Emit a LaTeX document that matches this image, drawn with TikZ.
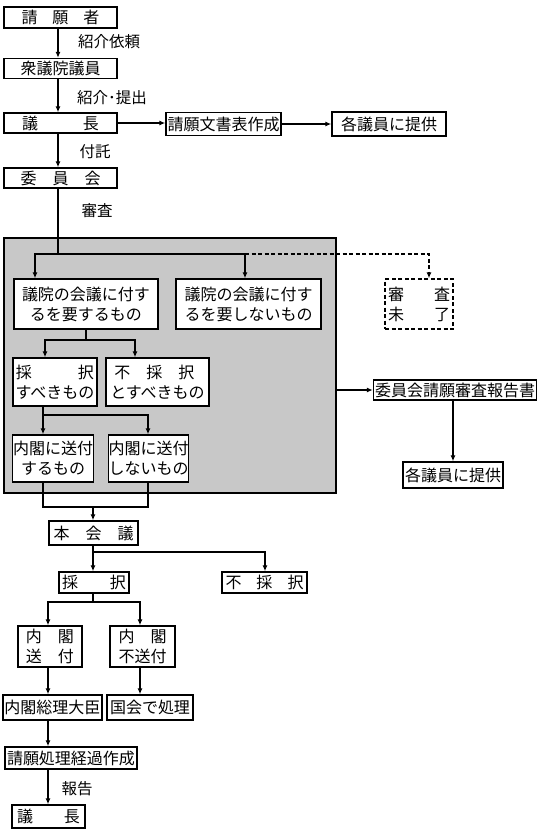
\documentclass[tikz,border=0pt]{standalone}
\usepackage{fontspec}
\setmainfont{Noto Sans CJK JP}
\usetikzlibrary{arrows.meta}
\definecolor{panel}{RGB}{200,200,200}
\newcommand\spr[2]{\makebox[#1][s]{#2}}
\begin{document}
\begin{tikzpicture}[x=1pt,y=-1pt,
  bx/.style={draw, line width=1.4pt, fill=white, inner sep=0pt, align=center,
     font=\fontsize{16}{20}\selectfont},
  dbx/.style={bx, dashed, dash pattern=on 4pt off 2.5pt},
  lbl/.style={inner sep=0pt, font=\fontsize{15.5}{18}\selectfont},
  ln/.style={line width=1.2pt},
  arr/.style={ln, -{Latex[length=6pt,width=5pt]}}]
\useasboundingbox (0,0) rectangle (556,839);
% panel
\node[draw, line width=1.2pt, fill=panel, minimum width=332, minimum height=255, inner sep=0pt] (grp) at (170,365.5) {};
% top chain
\node[bx, minimum width=113, minimum height=21] (a) at (60.5,17.5) {\spr{78pt}{請\hfill 願\hfill 者}};
\node[bx, minimum width=113, minimum height=20] (b) at (60.5,68.5) {衆議院議員};
\node[bx, minimum width=113, minimum height=20] (c) at (60.5,123) {\spr{77pt}{議\hfill 長}};
\node[bx, minimum width=115, minimum height=23] (d) at (223.5,124) {請願文書表作成};
\node[bx, minimum width=114, minimum height=24] (e) at (389,124) {各議員に提供};
\node[bx, minimum width=113, minimum height=20] (f) at (60.5,178) {\spr{80pt}{委\hfill 員\hfill 会}};
% labels
\node[lbl] (l1) at (109,42) {紹介依頼};
\node[lbl] (l2) at (112,98) {紹介･提出};
\node[lbl] (l3) at (95,152) {付託};
\node[lbl] (l4) at (97,211) {審査};
\node[lbl] (l5) at (77,789) {報告};
% inside panel
\node[bx, minimum width=144, minimum height=50] (g) at (86,304) {議院の会議に付す\\るを要するもの};
\node[bx, minimum width=145, minimum height=50] (h) at (248.5,304) {議院の会議に付す\\るを要しないもの};
\node[dbx, minimum width=68, minimum height=50] (i) at (419,304) {\spr{62pt}{審\hfill 査}\\\spr{62pt}{未\hfill 了}};
\node[bx, minimum width=84, minimum height=48] (j) at (55,382) {\spr{78pt}{採\hfill 択}\\すべきもの};
\node[bx, minimum width=103, minimum height=48, align=left] (k) at (157.5,382) {\hspace{4pt}不　採　択\\とすべきもの};
\node[bx, minimum width=81, minimum height=47] (l) at (53,458.5) {内閣に送付\\するもの};
\node[bx, minimum width=80, minimum height=47] (m) at (148.5,458.5) {内閣に送付\\しないもの};
% right side
\node[bx, minimum width=163, minimum height=20] (w) at (455,390) {委員会請願審査報告書};
\node[bx, minimum width=100, minimum height=26] (x) at (453,475) {各議員に提供};
% lower chain
\node[bx, minimum width=89, minimum height=24] (n) at (93.5,533) {\spr{80pt}{本\hfill 会\hfill 議}};
\node[bx, minimum width=70, minimum height=21] (o) at (94,582.5) {\spr{64pt}{採\hfill 択}};
\node[bx, minimum width=85, minimum height=21] (p) at (264.5,582.5) {\spr{78pt}{不\hfill 採\hfill 択}};
\node[bx, minimum width=64, minimum height=41] (q) at (50,646.5) {内　閣\\送　付};
\node[bx, minimum width=65, minimum height=41] (r) at (142.5,646.5) {内　閣\\不送付};
\node[bx, minimum width=99, minimum height=25] (s) at (52.5,707.5) {内閣総理大臣};
\node[bx, minimum width=86, minimum height=25] (t) at (150,707.5) {国会で処理};
\node[bx, minimum width=132, minimum height=22] (u) at (71,758) {請願処理経過作成};
\node[bx, minimum width=73, minimum height=23] (v) at (48.5,816.5) {\spr{63pt}{議\hfill 長}};
% coordinates
\coordinate (b1) at (58,254);
\coordinate (b1l) at (35,254);
\coordinate (b1r) at (245,254);
\coordinate (b1d) at (429,254);
\coordinate (b2) at (86,340);
\coordinate (b2l) at (45,340);
\coordinate (b2r) at (135,340);
\coordinate (b3l) at (43,415);
\coordinate (b3r) at (148,415);
\coordinate (b4l) at (43,507);
\coordinate (b4m) at (93,507);
\coordinate (b4r) at (148,507);
\coordinate (b5) at (93,552);
\coordinate (b5r) at (265,552);
\coordinate (b6) at (93,602);
\coordinate (b6l) at (48,602);
\coordinate (b6r) at (140,602);
% connectors top
\draw[arr] (a.south -| b1) -- (b.north -| b1);
\draw[arr] (b.south -| b1) -- (c.north -| b1);
\draw[arr] (c.south -| b1) -- (f.north -| b1);
\draw[arr] (c) -- (c -| d.west);
\draw[arr] (d) -- (d -| e.west);
% panel bus
\draw[ln] (f.south -| b1) -- (b1);
\draw[arr] (b1) -- (b1l) -- (g.north -| b1l);
\draw[arr] (b1) -- (b1r) -- (h.north -| b1r);
\draw[arr, dashed, dash pattern=on 4pt off 2.5pt] (b1r) -- (b1d) -- (i.north -| b1d);
\draw[ln] (g.south -| b2) -- (b2);
\draw[arr] (b2) -- (b2l) -- (j.north -| b2l);
\draw[arr] (b2) -- (b2r) -- (k.north -| b2r);
\draw[arr] (j.south -| b3l) -- (b3l) -- (l.north -| b3l);
\draw[arr] (b3l) -- (b3r) -- (m.north -| b3r);
\draw[ln] (l.south -| b4l) -- (b4l) -- (b4r) -- (m.south -| b4r);
\draw[arr] (b4m) -- (n.north -| b4m);
% right side
\draw[arr] (grp.east |- w) -- (w.west);
\draw[arr] (w.south -| x) -- (x);
% lower
\draw[ln] (n.south -| b5) -- (b5);
\draw[arr] (b5) -- (o.north -| b5);
\draw[arr] (b5) -- (b5r) -- (p.north -| b5r);
\draw[ln] (o.south -| b6) -- (b6);
\draw[arr] (b6) -- (b6l) -- (q.north -| b6l);
\draw[arr] (b6) -- (b6r) -- (r.north -| b6r);
\draw[arr] (q.south -| b6l) -- (s.north -| b6l);
\draw[arr] (r.south -| b6r) -- (t.north -| b6r);
\draw[arr] (s.south -| b6l) -- (u.north -| b6l);
\draw[arr] (u.south -| b6l) -- (v.north -| b6l);
\end{tikzpicture}
\end{document}
